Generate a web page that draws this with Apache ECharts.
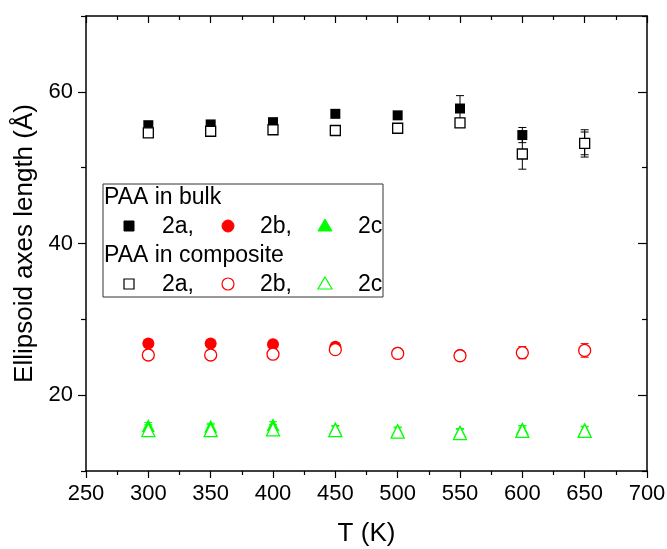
<!DOCTYPE html>
<html>
<head>
<meta charset="utf-8">
<script src="https://cdn.jsdelivr.net/npm/echarts@6/dist/echarts.min.js"></script>
<style>
  html, body { margin: 0; padding: 0; background: #fff; }
  #chart { width: 667px; height: 549px; }
</style>
</head>
<body>
<div id="chart"></div>
<script>
// temperatures (K)
const temps = [300, 350, 400, 450, 500, 550, 600, 650]

// PAA in bulk
const bulkA = [55.6, 55.7, 56.0, 57.1, 56.9, 57.8, 54.3, 53.2]
const bulkAErr = [0.3, 0.3, 0.3, 0.3, 0.3, 1.7, 1.0, 1.5]
const bulkB = [26.8, 26.8, 26.7, 26.4, 25.6, 25.3, 25.6, 25.9]
const bulkBErr = [0.3, 0.3, 0.3, 0.3, 0.3, 0.3, 0.3, 0.3]
const bulkC = [16.0, 15.9, 16.1, 15.6, 15.4, 15.2, 15.6, 15.5]
const bulkCErr = [0.4, 0.4, 0.4, 0.4, 0.4, 0.4, 0.4, 0.4]

// PAA in composite
const compA = [54.6, 54.8, 55.0, 54.9, 55.2, 55.9, 51.8, 53.2]
const compAErr = [0.3, 0.3, 0.3, 0.3, 0.3, 0.6, 2.0, 1.8]
const compB = [25.3, 25.3, 25.4, 26.0, 25.5, 25.2, 25.6, 25.9]
const compBErr = [0.4, 0.4, 0.4, 0.4, 0.3, 0.4, 0.8, 0.9]
const compC = [15.4, 15.4, 15.5, 15.4, 15.2, 15.0, 15.3, 15.3]
const compCErr = [0.7, 0.7, 0.6, 0.5, 0.5, 0.5, 0.5, 0.5]

// axis ticks
const yMajorTicks = [20, 40, 60]
const yMinorTicks = [10, 30, 50, 70]

const FONT = 'Liberation Sans, Arial, sans-serif'
const RED = '#ff0000'
const GREEN = '#00ff00'

const chart = echarts.init(document.getElementById('chart'))

// 误差棒
const errSeries = (vals, errs, color) => ({
  type: 'custom',
  xAxisIndex: 0,
  yAxisIndex: 0,
  silent: true,
  data: temps.map((t, i) => [t, vals[i] - errs[i], vals[i] + errs[i]]),
  renderItem: (params, api) => {
    const lo = api.coord([api.value(0), api.value(1)])
    const hi = api.coord([api.value(0), api.value(2)])
    const w = 4
    const style = { stroke: color, lineWidth: 1, fill: null }
    return {
      type: 'group',
      children: [
        { type: 'line', shape: { x1: lo[0], y1: lo[1], x2: hi[0], y2: hi[1] }, style },
        { type: 'line', shape: { x1: lo[0] - w, y1: lo[1], x2: lo[0] + w, y2: lo[1] }, style },
        { type: 'line', shape: { x1: hi[0] - w, y1: hi[1], x2: hi[0] + w, y2: hi[1] }, style }
      ]
    }
  }
})

const pts = (vals, symbol, size, color, filled) => ({
  type: 'scatter',
  xAxisIndex: 0,
  yAxisIndex: 0,
  symbol,
  symbolSize: size,
  data: temps.map((t, i) => [t, vals[i]]),
  itemStyle: filled
    ? { color, opacity: 1 }
    : { color: '#fff', borderColor: color, borderWidth: 1.3, opacity: 1 }
})

const legendText = (x, y, text) => ({
  type: 'text', x, y, z: 101,
  style: { text, font: '23px ' + FONT, fill: '#000', verticalAlign: 'middle' }
})

const legendSym = (kind, x, y, color, filled) => {
  const style = filled
    ? { fill: color, stroke: color, lineWidth: 1 }
    : { fill: '#fff', stroke: color, lineWidth: 1.2 }
  if (kind === 'rect') return { type: 'rect', z: 101, shape: { x: x - 5, y: y - 5, width: 10, height: 10 }, style }
  if (kind === 'circle') return { type: 'circle', z: 101, shape: { cx: x, cy: y, r: 6 }, style }
  return { type: 'polygon', z: 101, shape: { points: [[x, y - 7], [x + 7, y + 5], [x - 7, y + 5]] }, style }
}

const axisLine = { show: true, onZero: false, lineStyle: { color: '#000', width: 1.5 } }

const option = {
  animation: false,
  backgroundColor: '#fff',
  grid: { left: 86, right: 20, top: 16, bottom: 78, outerBoundsMode: 'none', containLabel: false },
  xAxis: [
    {
      type: 'value', position: 'bottom', min: 250, max: 700, interval: 50,
      name: 'T (K)', nameLocation: 'middle', nameGap: 50,
      nameTextStyle: { fontFamily: FONT, fontSize: 26, color: '#000' },
      axisLine,
      axisTick: { show: true, inside: false, length: 7, lineStyle: { color: '#000', width: 1.2 } },
      minorTick: { show: true, splitNumber: 2, length: 4, lineStyle: { color: '#000', width: 1.2 } },
      axisLabel: { fontFamily: FONT, fontSize: 22, color: '#000', margin: 12 },
      splitLine: { show: false }
    },
    {
      type: 'value', position: 'top', min: 250, max: 700, interval: 50,
      axisLine,
      axisTick: { show: true, inside: true, length: 7, lineStyle: { color: '#000', width: 1.2 } },
      minorTick: { show: true, splitNumber: 2, length: 4, lineStyle: { color: '#000', width: 1.2 } },
      axisLabel: { show: false },
      splitLine: { show: false }
    }
  ],
  yAxis: [
    {
      type: 'value', position: 'left', min: 10, max: 70, interval: 10,
      name: 'Ellipsoid axes length (Å)', nameLocation: 'middle', nameGap: 48, nameRotate: 90,
      nameTextStyle: { fontFamily: FONT, fontSize: 26, color: '#000' },
      axisLine,
      axisTick: { show: true, inside: false, length: 8, customValues: yMajorTicks, lineStyle: { color: '#000', width: 1.2 } },
      axisLabel: { fontFamily: FONT, fontSize: 22, color: '#000', margin: 13, customValues: yMajorTicks },
      splitLine: { show: false }
    },
    {
      type: 'value', position: 'left', min: 10, max: 70, interval: 10,
      axisLine: { show: false },
      axisTick: { show: true, inside: false, length: 5, customValues: yMinorTicks, lineStyle: { color: '#000', width: 1.2 } },
      axisLabel: { show: false },
      splitLine: { show: false }
    },
    {
      type: 'value', position: 'right', min: 10, max: 70, interval: 10,
      axisLine,
      axisTick: { show: true, inside: true, length: 9, customValues: yMajorTicks, lineStyle: { color: '#000', width: 1.2 } },
      axisLabel: { show: false },
      splitLine: { show: false }
    },
    {
      type: 'value', position: 'right', min: 10, max: 70, interval: 10,
      axisLine: { show: false },
      axisTick: { show: true, inside: true, length: 5, customValues: yMinorTicks, lineStyle: { color: '#000', width: 1.2 } },
      axisLabel: { show: false },
      splitLine: { show: false }
    }
  ],
  series: [
    errSeries(bulkA, bulkAErr, '#000'),
    pts(bulkA, 'rect', 10, '#000', true),
    errSeries(bulkB, bulkBErr, RED),
    pts(bulkB, 'circle', 12, RED, true),
    errSeries(bulkC, bulkCErr, GREEN),
    pts(bulkC, 'triangle', 13, GREEN, true),
    pts(compA, 'rect', 10, '#000', false),
    errSeries(compA, compAErr, '#000'),
    pts(compB, 'circle', 12, RED, false),
    errSeries(compB, compBErr, RED),
    pts(compC, 'triangle', 13, GREEN, false),
    errSeries(compC, compCErr, GREEN)
  ],
  graphic: [
    {
      type: 'rect', shape: { x: 103, y: 184, width: 280, height: 113 },
      style: { fill: '#fff', stroke: '#333', lineWidth: 1 }, z: 100
    },
    legendText(104, 198, 'PAA in bulk'),
    legendSym('rect', 129, 226, '#000', true),
    legendText(162, 227, '2a,'),
    legendSym('circle', 228, 226, RED, true),
    legendText(260, 227, '2b,'),
    legendSym('tri', 325, 226, GREEN, true),
    legendText(358, 227, '2c'),
    legendText(104, 256, 'PAA in composite'),
    legendSym('rect', 129, 284, '#000', false),
    legendText(162, 285, '2a,'),
    legendSym('circle', 228, 284, RED, false),
    legendText(260, 285, '2b,'),
    legendSym('tri', 325, 284, GREEN, false),
    legendText(358, 285, '2c')
  ]
}

chart.setOption(option)
</script>
</body>
</html>
